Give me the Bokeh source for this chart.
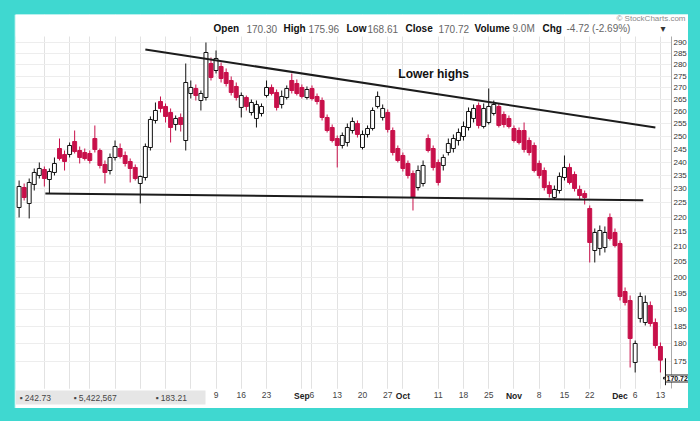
from bokeh.plotting import figure
from bokeh.models import (Range1d, FixedTicker, BasicTickFormatter, Label, ColumnDataSource,
                          BoxAnnotation, LinearAxis)
from bokeh.embed import file_html
from bokeh.resources import INLINE
from bokeh.core.properties import value

# ---------------- data ----------------
opens = [223.37, 230.55, 224.79, 231.65, 234.97, 237.21, 233.48, 236.09, 245.22, 242.91,
         242.91, 247.95, 244.44, 243.67, 243.29, 249.13, 244.44, 239.10, 236.83, 241.76,
         245.22, 242.53, 240.23, 237.97, 232.01, 234.22, 245.61, 256.33, 264.16, 262.08,
         259.60, 254.72, 257.56, 248.34, 267.52, 269.65, 264.57, 265.84, 280.53, 277.43,
         279.20, 276.56, 273.08, 270.51, 261.67, 265.84, 259.60, 257.15, 259.19, 266.68,
         270.08, 267.95, 262.91, 265.84, 273.08, 271.79, 270.08, 265.84, 269.65, 266.26,
         264.57, 257.56, 253.51, 249.13, 246.39, 247.56, 252.30, 255.12, 245.61, 250.72,
         253.11, 262.08, 257.56, 259.60, 252.30, 245.22, 242.53, 239.48, 235.71, 230.55,
         232.01, 249.13, 245.22, 239.85, 238.72, 243.67, 245.22, 248.34, 249.92, 253.51,
         257.15, 262.50, 253.91, 255.52, 259.19, 262.08, 258.78, 257.15, 253.11, 252.30,
         252.30, 248.34, 246.39, 239.48, 236.83, 231.28, 226.93, 229.45, 234.22, 237.97,
         235.34, 229.82, 228.37, 223.02, 208.67, 209.34, 209.67, 219.87, 214.70, 211.00,
         195.56, 192.80, 174.79, 187.39, 186.20, 191.29, 186.20, 179.26, 170.30]
highs = [233.11, 232.01, 233.85, 237.59, 239.85, 238.34, 237.59, 241.76, 249.13, 244.44,
         247.56, 252.30, 246.00, 245.22, 244.44, 254.32, 245.22, 240.61, 243.29, 248.34,
         247.17, 244.06, 241.38, 239.10, 234.97, 247.17, 257.97, 263.74, 266.26, 263.33,
         261.25, 258.37, 259.19, 280.53, 273.08, 271.37, 268.79, 290.00, 283.21, 286.35,
         280.97, 278.32, 274.82, 272.22, 267.95, 266.68, 264.99, 264.57, 263.33, 273.08,
         271.37, 269.22, 268.79, 270.94, 276.13, 273.52, 271.37, 270.51, 270.94, 267.52,
         265.84, 258.78, 254.72, 250.32, 251.51, 255.12, 257.56, 256.33, 252.30, 254.32,
         261.67, 268.37, 262.91, 260.84, 253.51, 246.39, 243.67, 240.61, 236.83, 238.72,
         240.61, 250.72, 246.39, 240.99, 242.91, 249.13, 250.72, 253.11, 255.93, 261.67,
         262.91, 263.74, 263.33, 269.65, 264.57, 263.33, 260.01, 258.37, 254.32, 253.51,
         255.52, 249.53, 247.56, 240.61, 237.97, 232.74, 231.28, 236.09, 242.53, 239.48,
         236.46, 231.28, 229.45, 224.08, 216.07, 217.10, 216.76, 221.26, 216.07, 212.00,
         196.81, 194.33, 180.97, 195.25, 194.33, 192.50, 187.39, 180.40, 175.96]
lows = [219.87, 225.85, 219.52, 229.45, 233.85, 230.92, 228.37, 234.97, 240.61, 236.83,
        241.76, 243.29, 239.48, 240.61, 239.48, 243.67, 237.59, 232.01, 235.34, 240.61,
        241.38, 238.34, 232.38, 233.11, 224.79, 233.11, 244.44, 255.12, 259.60, 255.52,
        247.56, 252.30, 251.90, 244.44, 265.42, 264.57, 260.42, 264.57, 273.08, 276.13,
        272.22, 270.51, 266.68, 264.57, 257.56, 260.42, 258.37, 253.51, 257.97, 265.84,
        266.68, 260.42, 261.25, 264.99, 267.52, 266.68, 265.42, 264.99, 264.57, 262.91,
        256.33, 251.51, 247.56, 237.97, 245.22, 246.00, 251.11, 249.53, 244.83, 249.53,
        252.30, 261.25, 256.33, 251.51, 242.53, 239.85, 236.46, 233.85, 222.31, 229.45,
        230.92, 243.67, 236.83, 231.28, 236.83, 242.53, 243.67, 246.39, 248.34, 252.30,
        255.52, 253.11, 253.11, 254.72, 258.37, 253.51, 253.51, 253.11, 247.56, 246.78,
        243.67, 242.53, 236.09, 233.85, 229.45, 226.93, 226.21, 228.37, 233.11, 231.65,
        229.09, 226.21, 224.43, 204.75, 204.75, 207.04, 208.02, 212.00, 209.67, 192.80,
        191.29, 173.41, 172.04, 186.20, 185.32, 185.03, 178.70, 172.04, 168.61]
closes = [230.92, 226.93, 232.38, 236.09, 237.59, 233.85, 236.46, 239.48, 241.38, 240.23,
          246.39, 244.06, 241.76, 241.38, 240.61, 244.83, 238.72, 236.09, 241.76, 246.00,
          242.14, 239.48, 237.59, 233.85, 234.60, 246.00, 256.74, 260.42, 261.25, 257.97,
          253.51, 257.15, 254.72, 272.22, 270.08, 266.68, 267.52, 285.45, 274.39, 282.76,
          273.95, 271.79, 267.95, 265.84, 266.68, 262.08, 263.74, 262.91, 262.08, 270.08,
          267.52, 261.67, 266.26, 269.65, 268.79, 267.52, 266.26, 269.22, 265.42, 264.16,
          257.56, 252.30, 248.34, 246.39, 250.32, 253.51, 255.93, 250.72, 250.72, 253.11,
          260.42, 266.26, 261.25, 252.71, 243.67, 240.61, 237.59, 234.97, 226.93, 236.83,
          238.72, 244.44, 237.97, 232.38, 241.76, 247.17, 249.13, 251.51, 253.91, 260.01,
          261.25, 254.32, 261.25, 262.08, 262.91, 254.32, 254.72, 253.91, 248.34, 247.56,
          244.83, 243.67, 236.83, 234.97, 230.55, 228.37, 229.82, 234.60, 237.97, 232.38,
          230.18, 227.65, 226.93, 211.33, 214.70, 215.38, 214.70, 212.68, 210.33, 194.03,
          192.20, 181.55, 180.12, 194.03, 192.20, 185.91, 179.55, 175.44, 170.72]

# x-axis: trading-day index of each weekly tick / month start, and its label
day_idx = [5, 10, 14, 19, 24, 29, 34, 39, 44, 49, 58, 63, 68, 73,
           83, 88, 93, 103, 108, 113, 122, 127]
day_labels = ["", "", "", "", "", "", "", "9", "16", "23", "6", "13", "20", "27",
              "11", "18", "25", "8", "15", "22", "6", "13"]
month_idx = [56, 76, 98, 119]
month_labels = ["Sep", "Oct", "Nov", "Dec"]
price_ticks = list(range(175, 295, 5))

# trend lines (index, price)
resist_x = [25.0, 126.0]
resist_y = [286.8, 253.5]
support_x = [5.2, 123.6]
support_y = [228.4, 225.9]

header = [("Open", True), ("170.30", False), ("High", True), ("175.96", False),
          ("Low", True), ("168.61", False), ("Close", True), ("170.72", False),
          ("Volume", True), ("9.0M", False), ("Chg", True), ("-4.72 (-2.69%)", False)]
legend_vals = ["242.73", "5,422,567", "183.21"]
last_close = closes[-1]

# ---------------- layout / styling ----------------
RED = "#c8104a"
TEAL = "#3fd8d0"
FONT = "Liberation Sans"
Y_TOP, Y_BOT = 303.14, 162.51       # whole white panel (page y 14 .. 408)
PLOT_TOP, PLOT_BOT = 292.8, 167.7    # price area (page y 36 .. 388)
X_AXIS_AT = 166.95
MONTH_AXIS_AT = 167.47
Y_AXIS_AT = 129.19

n = len(closes)
idx = list(range(n))
up = [c >= o for o, c in zip(opens, closes)]
src = ColumnDataSource(dict(
    x=idx, h=highs, l=lows,
    top=[max(o, c) for o, c in zip(opens, closes)],
    bottom=[min(o, c) for o, c in zip(opens, closes)],
    line=["#111111" if u else RED for u in up],
    fill=["white" if u else RED for u in up],
))

p = figure(width=674, height=394, output_backend="svg", toolbar_location=None,
           y_axis_type="log", y_axis_location="right",
           x_range=Range1d(-0.713, 132.56), y_range=Range1d(Y_BOT, Y_TOP),
           min_border_left=1, min_border_right=0, min_border_top=0, min_border_bottom=0)
p.background_fill_color = "white"
p.border_fill_color = "white"
p.outline_line_color = None

# grids
p.xgrid.ticker = FixedTicker(ticks=sorted(day_idx + month_idx))
p.xgrid.grid_line_color = "#e2e2e2"
p.ygrid.ticker = FixedTicker(ticks=price_ticks)
p.ygrid.grid_line_color = "#ededed"
# keep the grid inside the price area
for kw in (dict(bottom=PLOT_TOP), dict(top=PLOT_BOT), dict(left=Y_AXIS_AT)):
    p.add_layout(BoxAnnotation(fill_color="white", fill_alpha=1, line_color=None,
                               level="underlay", **kw))


def style_x(ax, ticks, labels, bold, at):
    ax.fixed_location = at
    ax.ticker = FixedTicker(ticks=ticks)
    ax.major_label_overrides = {i: s for i, s in zip(ticks, labels)}
    ax.axis_line_color = None
    ax.major_tick_line_color = None
    ax.minor_tick_line_color = None
    ax.major_tick_out = 0
    ax.major_tick_in = 0
    ax.major_label_standoff = 1
    ax.major_label_text_font = FONT
    ax.major_label_text_font_size = "8.5px"
    ax.major_label_text_font_style = "bold" if bold else "normal"
    ax.major_label_text_color = "#222222" if bold else "#444444"


# x axes (inside the white panel): day numbers and bold month names
style_x(p.xaxis[0], day_idx, day_labels, False, X_AXIS_AT)
month_axis = LinearAxis()
style_x(month_axis, month_idx, month_labels, True, MONTH_AXIS_AT)
p.add_layout(month_axis, "below")

# y axis (right)
ya = p.yaxis[0]
ya.fixed_location = Y_AXIS_AT
ya.bounds = (PLOT_BOT, PLOT_TOP)
ya.ticker = FixedTicker(ticks=price_ticks)
ya.formatter = BasicTickFormatter()
ya.axis_line_color = "#aaaaaa"
ya.major_tick_line_color = None
ya.minor_tick_line_color = None
ya.major_tick_out = 0
ya.major_tick_in = 0
ya.major_label_standoff = 2
ya.major_label_text_font = FONT
ya.major_label_text_font_size = "8px"
ya.major_label_text_color = "#333333"

# candles
p.segment(x0="x", y0="h", x1="x", y1="l", line_color="line", line_width=1, source=src)
p.vbar(x="x", width=0.78, top="top", bottom="bottom", fill_color="fill",
       line_color="line", line_width=1, source=src)

# trend lines
p.line(resist_x, resist_y, line_color="#1c1c1c", line_width=2)
p.line(support_x, support_y, line_color="#1c1c1c", line_width=2)
p.text(x=[75.1], y=[276.1], text=["Lower highs"], text_font=value(FONT),
       text_font_size="12px", text_font_style="bold", text_color="#111111",
       text_baseline="middle", text_align="left")

# header line (screen units: from the panel's bottom-left corner)
hx = [198, 231, 268, 293, 331, 352, 390, 423, 459, 497, 527, 551]
for (txt, bold), x in zip(header, hx):
    p.add_layout(Label(x=x, y=380, x_units="screen", y_units="screen", text=txt,
                       text_font=FONT, text_font_size="10px",
                       text_font_style="bold" if bold else "normal",
                       text_color="#111111" if bold else "#666666",
                       text_baseline="middle"))
p.add_layout(Label(x=645, y=380, x_units="screen", y_units="screen", text="\u25be",
                   text_font="DejaVu Sans", text_font_size="10px", text_color="#333333",
                   text_baseline="middle"))
p.add_layout(Label(x=670, y=390, x_units="screen", y_units="screen", text="\u00a9 StockCharts.com",
                   text_font=FONT, text_font_size="8px", text_color="#8a8a8a",
                   text_baseline="middle", text_align="right"))

# bottom-left legend
p.add_layout(BoxAnnotation(left=0, right=190, bottom=4, top=18, left_units="screen",
                           right_units="screen", bottom_units="screen", top_units="screen",
                           fill_color="#e6e6e6", fill_alpha=1, line_color=None))
lx = [4, 58, 140]
for v, x in zip(legend_vals, lx):
    p.add_layout(Label(x=x, y=11, x_units="screen", y_units="screen", text="\u25aa " + v,
                       text_font=FONT, text_font_size="8.5px", text_color="#444444",
                       text_baseline="middle"))

# last price box
p.add_layout(Label(x=650, y=30, x_units="screen", y_units="screen", text="%.2f" % last_close,
                   text_font=FONT, text_font_size="7px", text_font_style="bold",
                   text_color="#111111", text_baseline="middle",
                   background_fill_color="white", border_line_color="#222222", padding=1))

html = file_html(p, INLINE, title="chart")
html = html.replace("</head>", "<style>html,body{background:%s;margin:0;}body{padding:14px 0 0 14px;}</style></head>" % TEAL, 1)
open("out.html", "w").write(html)
